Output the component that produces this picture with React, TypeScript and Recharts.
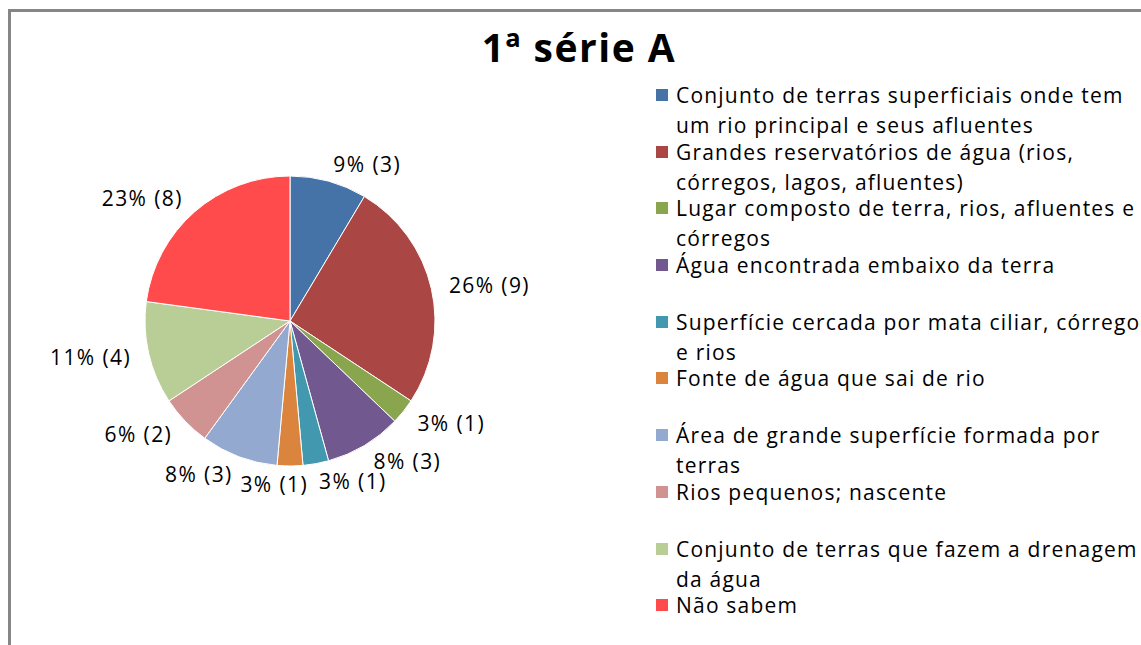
import { PieChart, Pie, Cell, Legend } from "recharts"

const categories = [
  "Conjunto de terras superficiais onde tem\num rio principal e seus afluentes",
  "Grandes reservatórios de água (rios,\ncórregos, lagos, afluentes)",
  "Lugar composto de terra, rios, afluentes e\ncórregos",
  "Água encontrada embaixo da terra",
  "Superfície cercada por mata ciliar, córregos\ne rios",
  "Fonte de água que sai de rio",
  "Área de grande superfície formada por\nterras",
  "Rios pequenos; nascente",
  "Conjunto de terras que fazem a drenagem\nda água",
  "Não sabem",
]
const counts = [3, 9, 1, 3, 1, 1, 3, 2, 4, 8]
const percents = ["9%", "26%", "3%", "8%", "3%", "3%", "8%", "6%", "11%", "23%"]
const colors = [
  "#4572A7", "#AA4643", "#89A54E", "#71588F", "#4198AF",
  "#DB843D", "#93A9CF", "#D19392", "#B9CD96", "#FF4B4B",
]

const FONT = "'Open Sans', Lato, sans-serif"
const RADIAN = Math.PI / 180

const data = categories.map((name, i) => ({ name, value: counts[i] }))

function renderLabel(props: any) {
  const { cx, cy, midAngle, outerRadius, index } = props
  const r = outerRadius + 18
  const sx = Math.cos(-midAngle * RADIAN)
  const sy = Math.sin(-midAngle * RADIAN)
  let x = cx + r * sx
  const y = cy + r * sy
  let anchor: "start" | "end" | "middle" = sx > 0.05 ? "start" : "end"
  if (Math.abs(sx) <= 0.05) {
    // bottom label pushed aside so it does not collide with its neighbour
    anchor = "end"
    x = x + 18
  }
  return (
    <text
      x={x}
      y={y}
      textAnchor={anchor}
      dominantBaseline="central"
      fontFamily={FONT}
      fontSize={21}
      letterSpacing={1.4}
      fill="#000"
    >
      {`${percents[index]} (${counts[index]})`}
    </text>
  )
}

function LegendList() {
  return (
    <div style={{ fontFamily: FONT, fontSize: 21, letterSpacing: 1.2, color: "#000" }}>
      {categories.map((name, i) => (
        <div key={name} style={{ display: "flex", height: 56.7 }}>
          <div
            style={{
              width: 12,
              height: 12,
              background: colors[i],
              marginTop: 9,
              marginRight: 8,
              flexShrink: 0,
            }}
          />
          <div style={{ lineHeight: "30px", whiteSpace: "pre" }}>{name}</div>
        </div>
      ))}
    </div>
  )
}

export default function App() {
  return (
    <div
      style={{
        position: "fixed",
        left: 0,
        top: 0,
        width: 1141,
        height: 645,
        overflow: "hidden",
        background: "#fff",
      }}
    >
      {/* chart frame, runs off the right and bottom edges */}
      <div
        style={{
          position: "absolute",
          left: 8,
          top: 9,
          width: 1200,
          height: 700,
          border: "3px solid #868686",
          boxSizing: "border-box",
        }}
      />
      <div
        style={{
          position: "absolute",
          left: 0,
          top: 21,
          width: 1158,
          textAlign: "center",
          fontFamily: FONT,
          fontWeight: 700,
          fontSize: 39,
          letterSpacing: 1.5,
          lineHeight: "52px",
          color: "#000",
        }}
      >
        1ª série A
      </div>
      <div style={{ position: "absolute", left: 0, top: 0 }}>
        <PieChart width={1141} height={645} margin={{ top: 0, right: 0, bottom: 0, left: 0 }}>
          <Pie
            data={data}
            dataKey="value"
            nameKey="name"
            cx={290}
            cy={321}
            outerRadius={145}
            startAngle={90}
            endAngle={-270}
            stroke="#fff"
            strokeWidth={1}
            label={renderLabel}
            labelLine={false}
            isAnimationActive={false}
          >
            {data.map((d, i) => (
              <Cell key={d.name} fill={colors[i]} />
            ))}
          </Pie>
          <Legend
            layout="vertical"
            align="right"
            verticalAlign="top"
            content={<LegendList />}
            wrapperStyle={{ left: 656, top: 80, width: 520 }}
          />
        </PieChart>
      </div>
    </div>
  )
}
